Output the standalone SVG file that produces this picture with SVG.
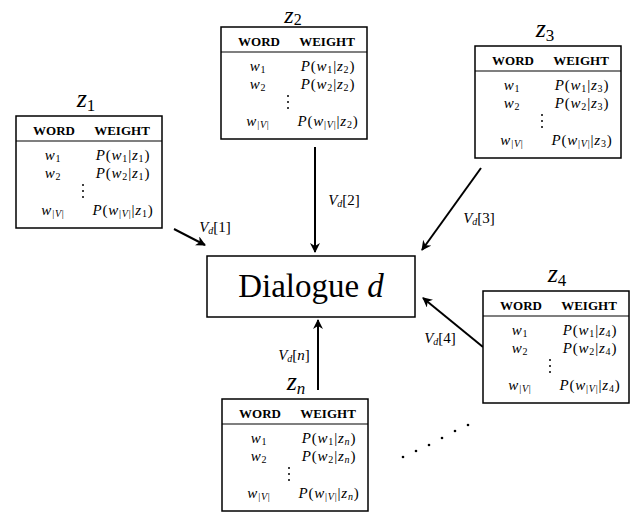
<svg xmlns="http://www.w3.org/2000/svg" width="640" height="513" viewBox="0 0 640 513" font-family="'Liberation Serif', 'DejaVu Serif', serif">
<style>
text{font-family:'Liberation Serif','DejaVu Serif',serif;fill:#000}
.box{fill:#fff;stroke:#000;stroke-width:1.5}
.hl{stroke:#000;stroke-width:1.2}
.hd{font-size:13px;font-weight:bold;text-anchor:middle}
.cell{font-size:15px;text-anchor:middle;letter-spacing:0.8px}
.t{font-size:26px;text-anchor:middle}
.lbl{font-size:15px;text-anchor:middle}
.i{font-style:italic}
.conn line{stroke:#000;stroke-width:2;fill:none}
</style>
<defs>
<marker id="ah" viewBox="0 0 10 10" refX="9" refY="5" markerWidth="5" markerHeight="5" orient="auto" markerUnits="strokeWidth">
<path d="M0,0 L10,5 L0,10 L3,5 z" fill="#000"/>
</marker>
<g id="frame">
<rect class="box" x="0" y="0" width="146" height="112"/>
<line class="hl" x1="0" y1="25" x2="146" y2="25"/>
<text class="hd" x="38" y="19">WORD</text>
<text class="hd" x="106" y="19">WEIGHT</text>
<text class="cell" x="37" y="44"><tspan class="i">w</tspan><tspan font-size="10" dy="2">1</tspan></text>
<text class="cell" x="37" y="62"><tspan class="i">w</tspan><tspan font-size="10" dy="2">2</tspan></text>
<text class="cell" x="37" y="99"><tspan class="i">w</tspan><tspan font-size="10" dy="2">|<tspan class="i">V</tspan>|</tspan></text>
<circle cx="67" cy="69" r="1"/><circle cx="67" cy="75" r="1"/><circle cx="67" cy="81" r="1"/>
</g>
</defs>

<g id="conn" class="conn">
<line x1="174" y1="229" x2="205" y2="245" marker-end="url(#ah)"/>
<line x1="315" y1="147" x2="315" y2="252" marker-end="url(#ah)"/>
<line x1="481" y1="168" x2="422" y2="250" marker-end="url(#ah)"/>
<line x1="483" y1="347" x2="423" y2="298" marker-end="url(#ah)"/>
<line x1="318" y1="390" x2="318" y2="320" marker-end="url(#ah)"/>
<text class="lbl" x="215" y="232"><tspan class="i">V</tspan><tspan font-size="10" dy="2" class="i">d</tspan><tspan dy="-2">[1]</tspan></text>
<text class="lbl" x="344" y="205"><tspan class="i">V</tspan><tspan font-size="10" dy="2" class="i">d</tspan><tspan dy="-2">[2]</tspan></text>
<text class="lbl" x="479" y="223"><tspan class="i">V</tspan><tspan font-size="10" dy="2" class="i">d</tspan><tspan dy="-2">[3]</tspan></text>
<text class="lbl" x="440" y="343"><tspan class="i">V</tspan><tspan font-size="10" dy="2" class="i">d</tspan><tspan dy="-2">[4]</tspan></text>
<text class="lbl" x="294" y="360"><tspan class="i">V</tspan><tspan font-size="10" dy="2" class="i">d</tspan><tspan dy="-2">[<tspan class="i">n</tspan>]</tspan></text>
</g>

<g id="dialogue">
<rect class="box" x="207" y="256" width="208" height="61"/>
<text x="311" y="297" font-size="33" text-anchor="middle">Dialogue <tspan class="i">d</tspan></text>
</g>

<g id="z1" transform="translate(16,116)">
<text class="t" x="70" y="-9"><tspan class="i">z</tspan><tspan font-size="17" dy="4">1</tspan></text>
<use href="#frame"/>
<text class="cell" x="107" y="44"><tspan class="i">P</tspan>(<tspan class="i">w</tspan><tspan font-size="10" dy="2">1</tspan><tspan dy="-2">|</tspan><tspan class="i">z</tspan><tspan font-size="10" dy="2">1</tspan><tspan dy="-2">)</tspan></text>
<text class="cell" x="107" y="62"><tspan class="i">P</tspan>(<tspan class="i">w</tspan><tspan font-size="10" dy="2">2</tspan><tspan dy="-2">|</tspan><tspan class="i">z</tspan><tspan font-size="10" dy="2">1</tspan><tspan dy="-2">)</tspan></text>
<text class="cell" x="107" y="99"><tspan class="i">P</tspan>(<tspan class="i">w</tspan><tspan font-size="10" dy="2">|<tspan class="i">V</tspan>|</tspan><tspan dy="-2">|</tspan><tspan class="i">z</tspan><tspan font-size="10" dy="2">1</tspan><tspan dy="-2">)</tspan></text>
</g>

<g id="z2" transform="translate(221,27)">
<text class="t" x="72" y="-4" font-size="24" style="font-size:24px"><tspan class="i">z</tspan><tspan font-size="16" dy="2">2</tspan></text>
<use href="#frame"/>
<text class="cell" x="107" y="44"><tspan class="i">P</tspan>(<tspan class="i">w</tspan><tspan font-size="10" dy="2">1</tspan><tspan dy="-2">|</tspan><tspan class="i">z</tspan><tspan font-size="10" dy="2">2</tspan><tspan dy="-2">)</tspan></text>
<text class="cell" x="107" y="62"><tspan class="i">P</tspan>(<tspan class="i">w</tspan><tspan font-size="10" dy="2">2</tspan><tspan dy="-2">|</tspan><tspan class="i">z</tspan><tspan font-size="10" dy="2">2</tspan><tspan dy="-2">)</tspan></text>
<text class="cell" x="107" y="99"><tspan class="i">P</tspan>(<tspan class="i">w</tspan><tspan font-size="10" dy="2">|<tspan class="i">V</tspan>|</tspan><tspan dy="-2">|</tspan><tspan class="i">z</tspan><tspan font-size="10" dy="2">2</tspan><tspan dy="-2">)</tspan></text>
</g>

<g id="z3" transform="translate(475,46)">
<text class="t" x="70" y="-9"><tspan class="i">z</tspan><tspan font-size="17" dy="4">3</tspan></text>
<use href="#frame"/>
<text class="cell" x="107" y="44"><tspan class="i">P</tspan>(<tspan class="i">w</tspan><tspan font-size="10" dy="2">1</tspan><tspan dy="-2">|</tspan><tspan class="i">z</tspan><tspan font-size="10" dy="2">3</tspan><tspan dy="-2">)</tspan></text>
<text class="cell" x="107" y="62"><tspan class="i">P</tspan>(<tspan class="i">w</tspan><tspan font-size="10" dy="2">2</tspan><tspan dy="-2">|</tspan><tspan class="i">z</tspan><tspan font-size="10" dy="2">3</tspan><tspan dy="-2">)</tspan></text>
<text class="cell" x="107" y="99"><tspan class="i">P</tspan>(<tspan class="i">w</tspan><tspan font-size="10" dy="2">|<tspan class="i">V</tspan>|</tspan><tspan dy="-2">|</tspan><tspan class="i">z</tspan><tspan font-size="10" dy="2">3</tspan><tspan dy="-2">)</tspan></text>
</g>

<g id="z4" transform="translate(483,291)">
<text class="t" x="74" y="-9"><tspan class="i">z</tspan><tspan font-size="17" dy="4">4</tspan></text>
<use href="#frame"/>
<text class="cell" x="107" y="44"><tspan class="i">P</tspan>(<tspan class="i">w</tspan><tspan font-size="10" dy="2">1</tspan><tspan dy="-2">|</tspan><tspan class="i">z</tspan><tspan font-size="10" dy="2">4</tspan><tspan dy="-2">)</tspan></text>
<text class="cell" x="107" y="62"><tspan class="i">P</tspan>(<tspan class="i">w</tspan><tspan font-size="10" dy="2">2</tspan><tspan dy="-2">|</tspan><tspan class="i">z</tspan><tspan font-size="10" dy="2">4</tspan><tspan dy="-2">)</tspan></text>
<text class="cell" x="107" y="99"><tspan class="i">P</tspan>(<tspan class="i">w</tspan><tspan font-size="10" dy="2">|<tspan class="i">V</tspan>|</tspan><tspan dy="-2">|</tspan><tspan class="i">z</tspan><tspan font-size="10" dy="2">4</tspan><tspan dy="-2">)</tspan></text>
</g>

<g id="zn" transform="translate(222,399)">
<text class="t" x="74" y="-9"><tspan class="i">z</tspan><tspan font-size="17" dy="4" class="i">n</tspan></text>
<use href="#frame"/>
<text class="cell" x="107" y="44"><tspan class="i">P</tspan>(<tspan class="i">w</tspan><tspan font-size="10" dy="2">1</tspan><tspan dy="-2">|</tspan><tspan class="i">z</tspan><tspan font-size="10" dy="2" class="i">n</tspan><tspan dy="-2">)</tspan></text>
<text class="cell" x="107" y="62"><tspan class="i">P</tspan>(<tspan class="i">w</tspan><tspan font-size="10" dy="2">2</tspan><tspan dy="-2">|</tspan><tspan class="i">z</tspan><tspan font-size="10" dy="2" class="i">n</tspan><tspan dy="-2">)</tspan></text>
<text class="cell" x="107" y="99"><tspan class="i">P</tspan>(<tspan class="i">w</tspan><tspan font-size="10" dy="2">|<tspan class="i">V</tspan>|</tspan><tspan dy="-2">|</tspan><tspan class="i">z</tspan><tspan font-size="10" dy="2" class="i">n</tspan><tspan dy="-2">)</tspan></text>
</g>

<g id="ellipsis">
<circle cx="403" cy="457" r="1.3"/><circle cx="416" cy="451" r="1.3"/><circle cx="429" cy="445" r="1.3"/><circle cx="442" cy="438" r="1.3"/><circle cx="455" cy="431" r="1.3"/><circle cx="468" cy="425" r="1.3"/>
</g>
</svg>
